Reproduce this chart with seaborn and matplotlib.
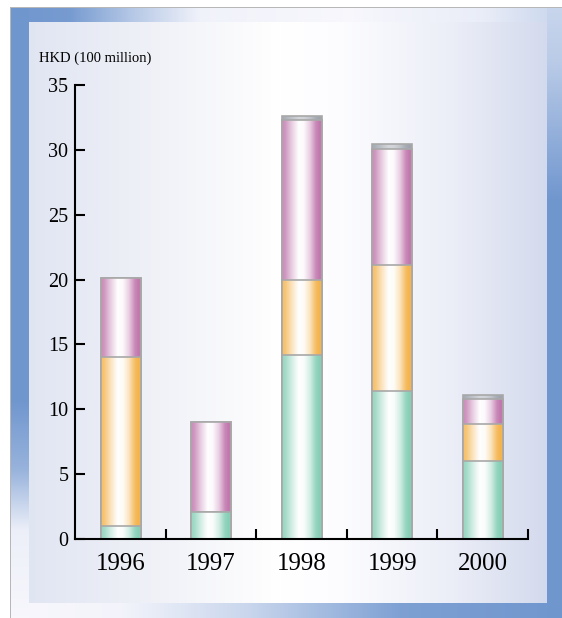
import numpy as np
import pandas as pd
import matplotlib
matplotlib.use("Agg")
import matplotlib.pyplot as plt
import seaborn as sns

# ---------------- data ----------------
years = ["1996", "1997", "1998", "1999", "2000"]
seg_green = [1.0, 2.1, 14.2, 11.4, 6.0]
seg_orange = [13.0, 0.0, 5.8, 9.7, 2.9]
seg_purple = [6.1, 6.9, 12.3, 9.0, 1.9]
seg_cap = [0.0, 0.0, 0.3, 0.35, 0.3]
y_ticks = [0, 5, 10, 15, 20, 25, 30, 35]
unit_label = "HKD (100 million)"

# ---------------- style ----------------
sns.set_style("white")
plt.rcParams['font.family'] = ['Liberation Serif', 'DejaVu Serif']

W, H = 562, 618
fig = plt.figure(figsize=(W / 100, H / 100), dpi=100)

# ---------------- background frame ----------------
img = np.ones((H, W, 3))
xs = np.arange(W)
ys = np.arange(H)
blue = np.array([0.44, 0.59, 0.81])
light = np.array([0.97, 0.97, 0.99])

def blend(b):
    b = np.clip(b, 0, 1)[..., None]
    return light * (1 - b) + blue * b

# top band
b_top = np.interp(xs, [11, 70, 130, 200, 350, 480, 562], [1, 0.95, 0.5, 0.05, 0.0, 0.1, 0.35])
img[8:22, 11:] = blend(b_top[11:])[None, :, :]
# bottom band
b_bot = np.interp(xs, [11, 120, 250, 400, 562], [0.0, 0.03, 0.35, 0.9, 1.0])
img[603:, 11:] = blend(b_bot[11:])[None, :, :]
# left band
b_left = np.interp(ys, [8, 400, 470, 530, 618], [1, 1, 0.7, 0.08, 0.0])
img[8:, 11:29] = blend(b_left[8:])[:, None, :]
# right band
b_right = np.interp(ys, [8, 60, 200, 618], [0.35, 0.45, 1, 1])
img[8:, 547:] = blend(b_right[8:])[:, None, :]
# inner panel
stops_x = [29, 150, 280, 340, 450, 547]
stops_c = np.array([[0.88, 0.90, 0.95], [0.94, 0.945, 0.97], [1, 1, 1],
                    [0.99, 0.99, 1.0], [0.925, 0.935, 0.97], [0.83, 0.855, 0.93]])
inner = np.stack([np.interp(xs[29:547], stops_x, stops_c[:, c]) for c in range(3)], axis=-1)
img[22:603, 29:547] = inner[None, :, :]
# gray border line
img[7, 10:] = [0.72, 0.72, 0.72]
img[7:, 10] = [0.72, 0.72, 0.72]

bg = fig.add_axes([0, 0, 1, 1], zorder=-10)
bg.imshow(img, aspect='auto', interpolation='nearest')
bg.axis('off')

# ---------------- main axes ----------------
ax = fig.add_axes([75.4 / W, (H - 539) / H, (528 - 75.4) / W, (539 - 85) / H])
ax.set_facecolor('none')

df = pd.DataFrame({"year": years, "green": seg_green, "orange": seg_orange,
                   "purple": seg_purple, "cap": seg_cap})
df["c1"] = df["green"]
df["c2"] = df["c1"] + df["orange"]
df["c3"] = df["c2"] + df["purple"]
df["c4"] = df["c3"] + df["cap"]

prof_t = [0, 0.08, 0.25, 0.42, 0.55, 0.7, 0.85, 0.95, 1.0]
prof_a = [0.85, 0.75, 0.35, 0.0, 0.05, 0.35, 0.85, 1.0, 0.9]

def gradient(color, amin=0.0):
    t = np.linspace(0, 1, 120)
    a = np.interp(t, prof_t, prof_a)
    a = amin + (1 - amin) * a
    c = np.array(matplotlib.colors.to_rgb(color))
    return (1 - a)[:, None] * np.ones(3) + a[:, None] * c

layers = [("c4", "#9ea3ad", 0.45), ("c3", "#c076ac", 0.0),
          ("c2", "#f4b24a", 0.0), ("c1", "#84ceb5", 0.0)]

for k, (col, color, amin) in enumerate(layers):
    n0 = len(ax.patches)
    sns.barplot(data=df, x="year", y=col, order=years, ax=ax, width=0.44,
                errorbar=None, color=color)
    grad = gradient(color, amin)[None, :, :]
    for p in ax.patches[n0:]:
        x0, y0 = p.get_x(), p.get_y()
        w, h = p.get_width(), p.get_height()
        if h <= 0:
            continue
        im = ax.imshow(grad, extent=[x0, x0 + w, y0, y0 + h], aspect='auto',
                       interpolation='bilinear', zorder=2 + k * 0.1)
        im.set_clip_path(p)
        p.set_facecolor('none')
        p.set_edgecolor('#a8a8a8')
        p.set_linewidth(1.2)
        p.set_zorder(2 + k * 0.1 + 0.05)

ax.set_xlim(-0.5, 4.5)
ax.set_ylim(0, 35)
ax.set_xlabel("")
ax.set_ylabel("")

for s in ["top", "right"]:
    ax.spines[s].set_visible(False)
for s in ["left", "bottom"]:
    ax.spines[s].set_linewidth(1.5)
    ax.spines[s].set_color("black")
    ax.spines[s].set_zorder(5)

ax.set_yticks(y_ticks)
ax.set_yticklabels([str(v) for v in y_ticks])
ax.tick_params(axis='y', direction='in', length=7.5, width=1.5, labelsize=14.5,
               pad=5, color='black', labelcolor='black', left=True)
ax.set_xticks(range(len(years)))
ax.set_xticklabels(years)
ax.set_xticks([i + 0.5 for i in range(len(years))], minor=True)
ax.tick_params(axis='x', which='major', length=0, labelsize=18, pad=10,
               labelcolor='black')
ax.tick_params(axis='x', which='minor', direction='in', length=7.5, width=1.5,
               color='black', bottom=True)

fig.text(39 / W, 1 - 62 / H, unit_label, fontsize=10.5, ha='left', va='baseline',
         color='black')

fig.savefig("out.png", dpi=100)
